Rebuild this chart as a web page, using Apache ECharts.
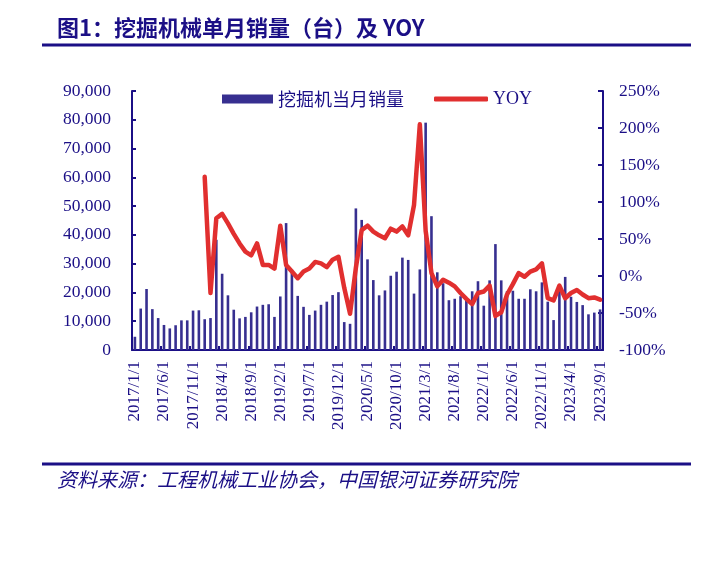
<!DOCTYPE html>
<html><head><meta charset="utf-8">
<script src="https://cdn.jsdelivr.net/npm/echarts@6/dist/echarts.min.js"></script>
<style>html,body{margin:0;padding:0;background:#fff}#c{width:711px;height:573px}</style>
</head><body><div id="c"></div>
<script>
const months = [];
for (let y = 2017; y <= 2023; y++) for (let m = 1; m <= 12; m++) { if (y === 2023 && m > 9) break; months.push(y + '/' + m + '/1'); }
const sales = [
 4600,14400,21200,14200,11100,8700,7500,8600,10300,10300,13700,13800,
 10700,11100,38300,26500,19000,14000,11000,11500,13100,15100,15700,15900,
 11500,18600,44100,27900,18800,15000,12200,13700,15700,16800,19100,20100,
 9700,9100,49200,45200,31500,24300,19000,20700,25800,27200,32100,31300,
 19600,28000,79000,46500,27000,23200,17300,17800,18700,17400,20400,23900,
 15400,24200,36800,24200,20400,20600,17800,17800,21100,20400,23500,16800,
 10400,20500,25400,18500,16700,15600,12400,13000,14100
];
const yoy = [
 null,null,null,null,null,null,null,null,null,null,null,null,
 134,-23,78,84,71,57,44,33,28,44,15,15,
 10,68,15,6,-3,6,10,19,17,12,22,26,
 -16,-51,11,62,68,60,55,51,64,60,67,55,
 96,205,61,4,-14,-5,-9,-14,-23,-31,-38,-23,
 -21,-13,-54,-49,-25,-11,4,-1,6,9,17,-30,
 -33,-13,-30,-23,-19,-25,-30,-29,-32
];
const navy = '#1b0f86';
const serif = '"Liberation Serif","Times New Roman",serif';
const chart = echarts.init(document.getElementById('c'));
chart.setOption({
  animation: false,
  backgroundColor: '#fff',
  graphic: [
    {type:'text', left:57, top:17, style:{text:'图1：挖掘机械单月销量（台）及 YOY', font:'bold 22px "Noto Sans CJK SC", sans-serif', fill:navy}},
    {type:'rect', shape:{x:42, y:43.5, width:649, height:3}, style:{fill:navy}},
    {type:'rect', shape:{x:42, y:462.5, width:649, height:3}, style:{fill:navy}},
    {type:'text', left:57, top:469, style:{text:'资料来源：工程机械工业协会，中国银河证券研究院', font:'italic 20px "Noto Sans CJK SC", sans-serif', fill:navy}}
  ],
  legend: [
    {data:['挖掘机当月销量'], left:217, top:85, itemWidth:51, itemHeight:9, icon:'rect', itemGap:7,
     textStyle:{fontSize:18, color:navy, fontFamily:'"Noto Sans CJK SC", sans-serif'}},
    {data:['YOY'], left:429, top:85, itemWidth:54, itemHeight:5, icon:'roundRect',
     textStyle:{fontSize:18, color:navy, fontFamily:serif}}
  ],
  grid: {left:132, right:108, top:91, bottom:223, containLabel:false},
  xAxis: {
    type:'category', data: months, boundaryGap:true,
    axisLine:{lineStyle:{color:navy, width:2}},
    axisTick:{show:true, inside:true, length:4, interval:4, lineStyle:{color:navy, width:2}},
    axisLabel:{interval:4, rotate:90, fontSize:17, color:navy, fontFamily:serif, margin:11}
  },
  yAxis: [
    {type:'value', min:0, max:90000, interval:10000,
     axisLine:{show:true, lineStyle:{color:navy, width:2}},
     axisTick:{show:true, inside:true, length:4, lineStyle:{color:navy, width:2}},
     splitLine:{show:false},
     axisLabel:{fontSize:17.5, color:navy, fontFamily:serif, margin:21,
       formatter:v => v.toLocaleString('en-US')}},
    {type:'value', min:-100, max:250, interval:50, position:'right',
     axisLine:{show:true, lineStyle:{color:navy, width:2}},
     axisTick:{show:true, inside:true, length:5, lineStyle:{color:navy, width:2}},
     splitLine:{show:false},
     axisLabel:{fontSize:17.5, color:navy, fontFamily:serif, margin:16, formatter:v => v + '%'}}
  ],
  series: [
    {name:'挖掘机当月销量', type:'bar', data:sales, barWidth:2.6, itemStyle:{color:'#372f90'}},
    {name:'YOY', type:'line', yAxisIndex:1, data:yoy, symbol:'none', smooth:false,
     lineStyle:{color:'#e12f2f', width:4.5, join:'round', cap:'round'}, itemStyle:{color:'#e12f2f'}}
  ]
});
</script></body></html>
